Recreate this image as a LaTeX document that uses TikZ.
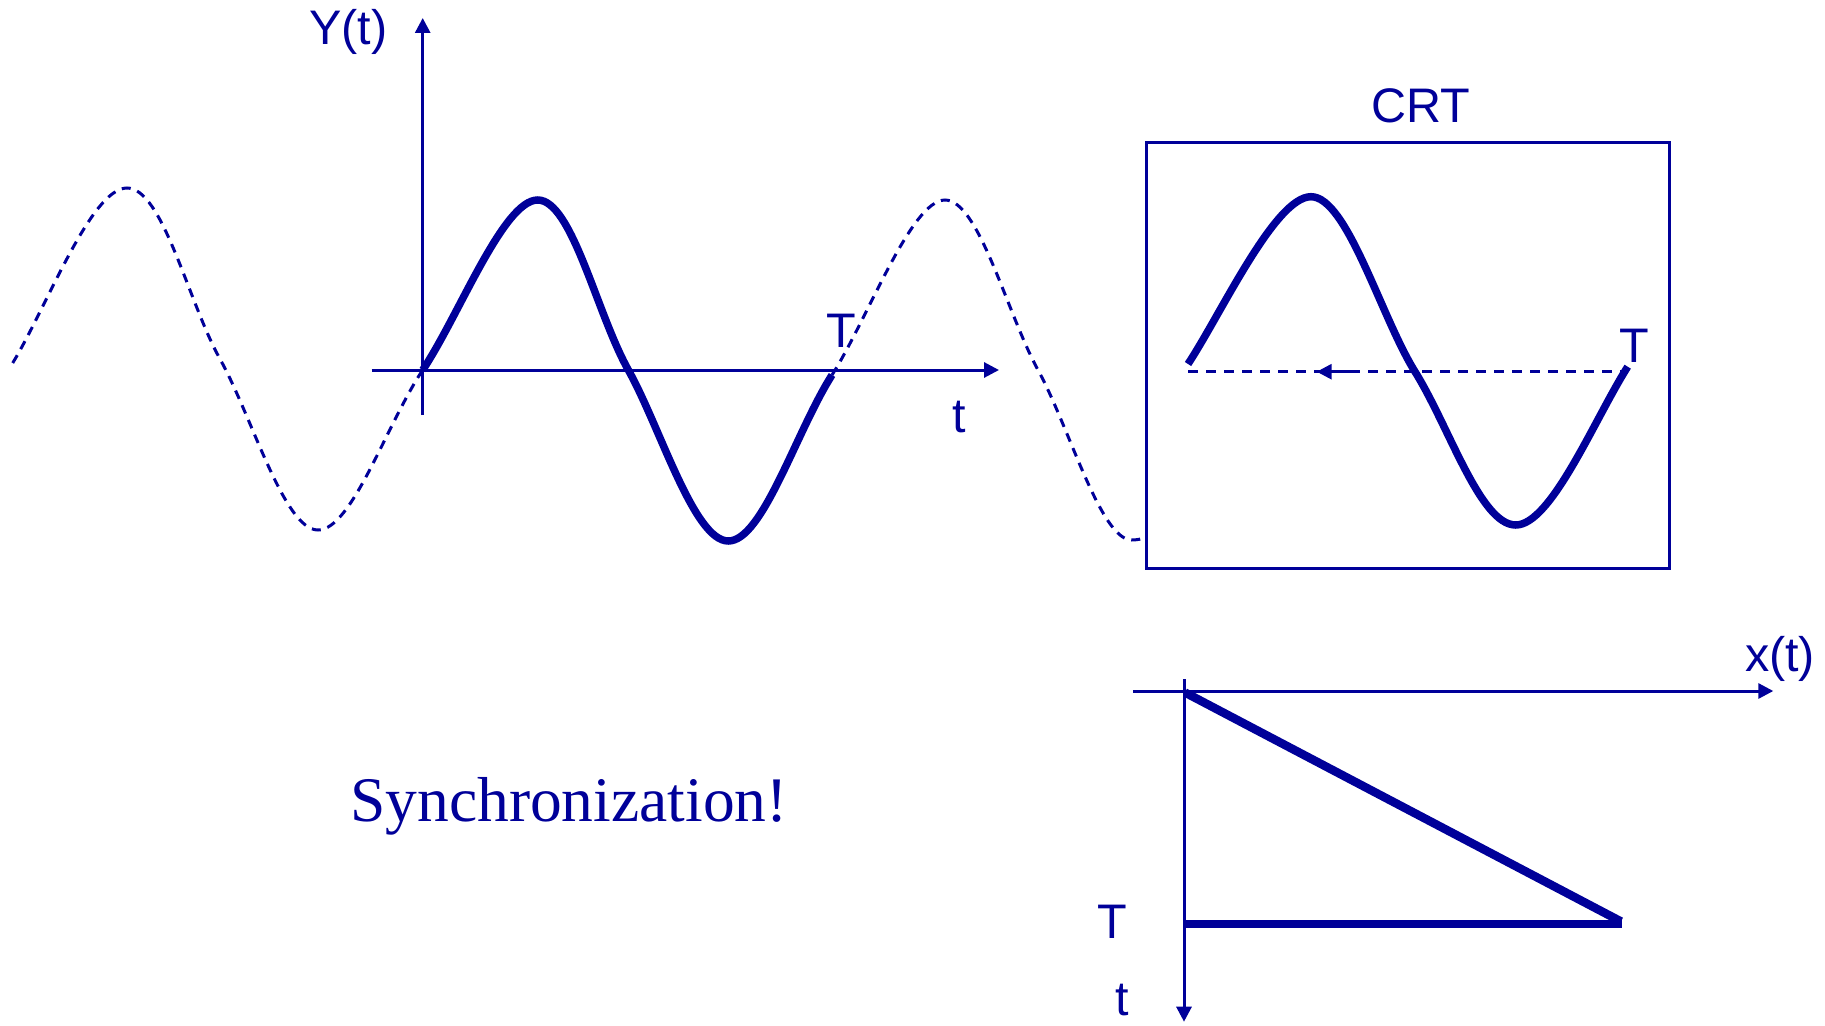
\documentclass[tikz,border=0pt]{standalone}
\usepackage{fontspec}
\setmainfont{Liberation Sans}
\newfontfamily\timesfont{Liberation Serif}
\usetikzlibrary{arrows.meta}
\definecolor{navy}{RGB}{0,0,153}
\begin{document}
\begin{tikzpicture}[x=1pt,y=-1pt,
  axis/.style={navy, line width=3pt},
  arr/.style={-{Triangle[length=15pt,width=15pt]}},
  wave/.style={navy, line width=7.5pt},
  ramp/.style={navy, line width=8.5pt},
  dwave/.style={navy, line width=3pt, dash pattern=on 9pt off 7pt},
  lbl/.style={text=navy, inner sep=0pt, anchor=base, font=\fontsize{48.5}{50}\selectfont},
]
\useasboundingbox (0,0) rectangle (1825,1025);

% ---------- main time axes ----------
\coordinate (ybot) at (422.7,415);
\coordinate (ytop) at (422.7,18);
\coordinate (tleft) at (371.7,370);
\coordinate (tright) at (999,370);
\draw[axis,arr] (ybot) -- (ytop);
\draw[axis,arr] (tleft) -- (tright);
\node[lbl] (Ylbl) at (348.5,45) {Y(t)};
\node[lbl] (tlbl) at (959.5,432) {t};
\node[lbl] (Tlbl) at (841,347) {T};

% ---------- waveform ----------
% left dashed part
\draw[dwave] (12.7,363) .. controls (47.2,306) and (91.3,188) .. (127,188)
  .. controls (162.7,188) and (188.2,302) .. (220,359)
  .. controls (251.8,416) and (284.2,530) .. (318,530)
  .. controls (351.8,530) and (386.1,425) .. (422.7,370);
% solid period
\draw[wave] (422.7,370) .. controls (459.3,315) and (503.4,200) .. (537.7,200)
  .. controls (572,200) and (596.5,313.2) .. (628.3,370)
  .. controls (660.1,426.8) and (693.9,541) .. (728.3,541)
  .. controls (762.7,541) and (795.9,431.8) .. (832,375);
% right dashed part
\draw[dwave] (832,375) .. controls (868.1,318.2) and (911.2,200) .. (945,200)
  .. controls (978.8,200) and (1006.9,313.3) .. (1038,370)
  .. controls (1069.1,426.7) and (1100.7,540) .. (1131.7,540)
  .. controls (1137,540) and (1142,539) .. (1146,537);

% ---------- CRT ----------
\draw[axis] (1146.7,142.3) rectangle (1669.3,568);
\node[lbl] (crt) at (1421,122) {CRT};
\draw[wave] (1188,364) .. controls (1221,314) and (1275,196.7) .. (1311,196.7)
  .. controls (1347,196.7) and (1380.9,317) .. (1415,371.7)
  .. controls (1449.1,426.4) and (1480.2,525) .. (1515.7,525)
  .. controls (1551.2,525) and (1594.7,418.7) .. (1627.7,366.7);
\coordinate (rl) at (1188,371.7);
\coordinate (rr) at (1622,371.7);
\draw[navy, line width=3pt, dash pattern=on 10pt off 8pt] (rl) -- (rr);
\coordinate (ra) at (1350,371.7);
\coordinate (rb) at (1316.7,371.7);
\draw[axis,arr] (ra) -- (rb);
\node[lbl] (Tcrt) at (1634,362) {T};

% ---------- sweep (x(t)) ----------
\coordinate (xl) at (1133,691);
\coordinate (xr) at (1773.3,691);
\coordinate (vt) at (1184,679.3);
\coordinate (vb) at (1184,1021.7);
\draw[axis,arr] (xl) -- (xr);
\draw[axis,arr] (vt) -- (vb);
\node[lbl] (xlbl) at (1780,671.7) {x(t)};
\coordinate (r0) at (1185,692.5);
\coordinate (r1) at (1621,921.5);
\coordinate (b0) at (1184,924);
\coordinate (b1) at (1622,924);
\draw[ramp] (r0) -- (r1);
\draw[ramp] (b0) -- (b1);
\node[lbl] (Tb) at (1112.5,938) {T};
\node[lbl] (tb) at (1122,1015) {t};

% ---------- caption ----------
\node[text=navy, inner sep=0pt, anchor=base, font=\timesfont\fontsize{63.5}{66}\selectfont] (sync) at (569,821.7) {Synchronization!};
\end{tikzpicture}
\end{document}
